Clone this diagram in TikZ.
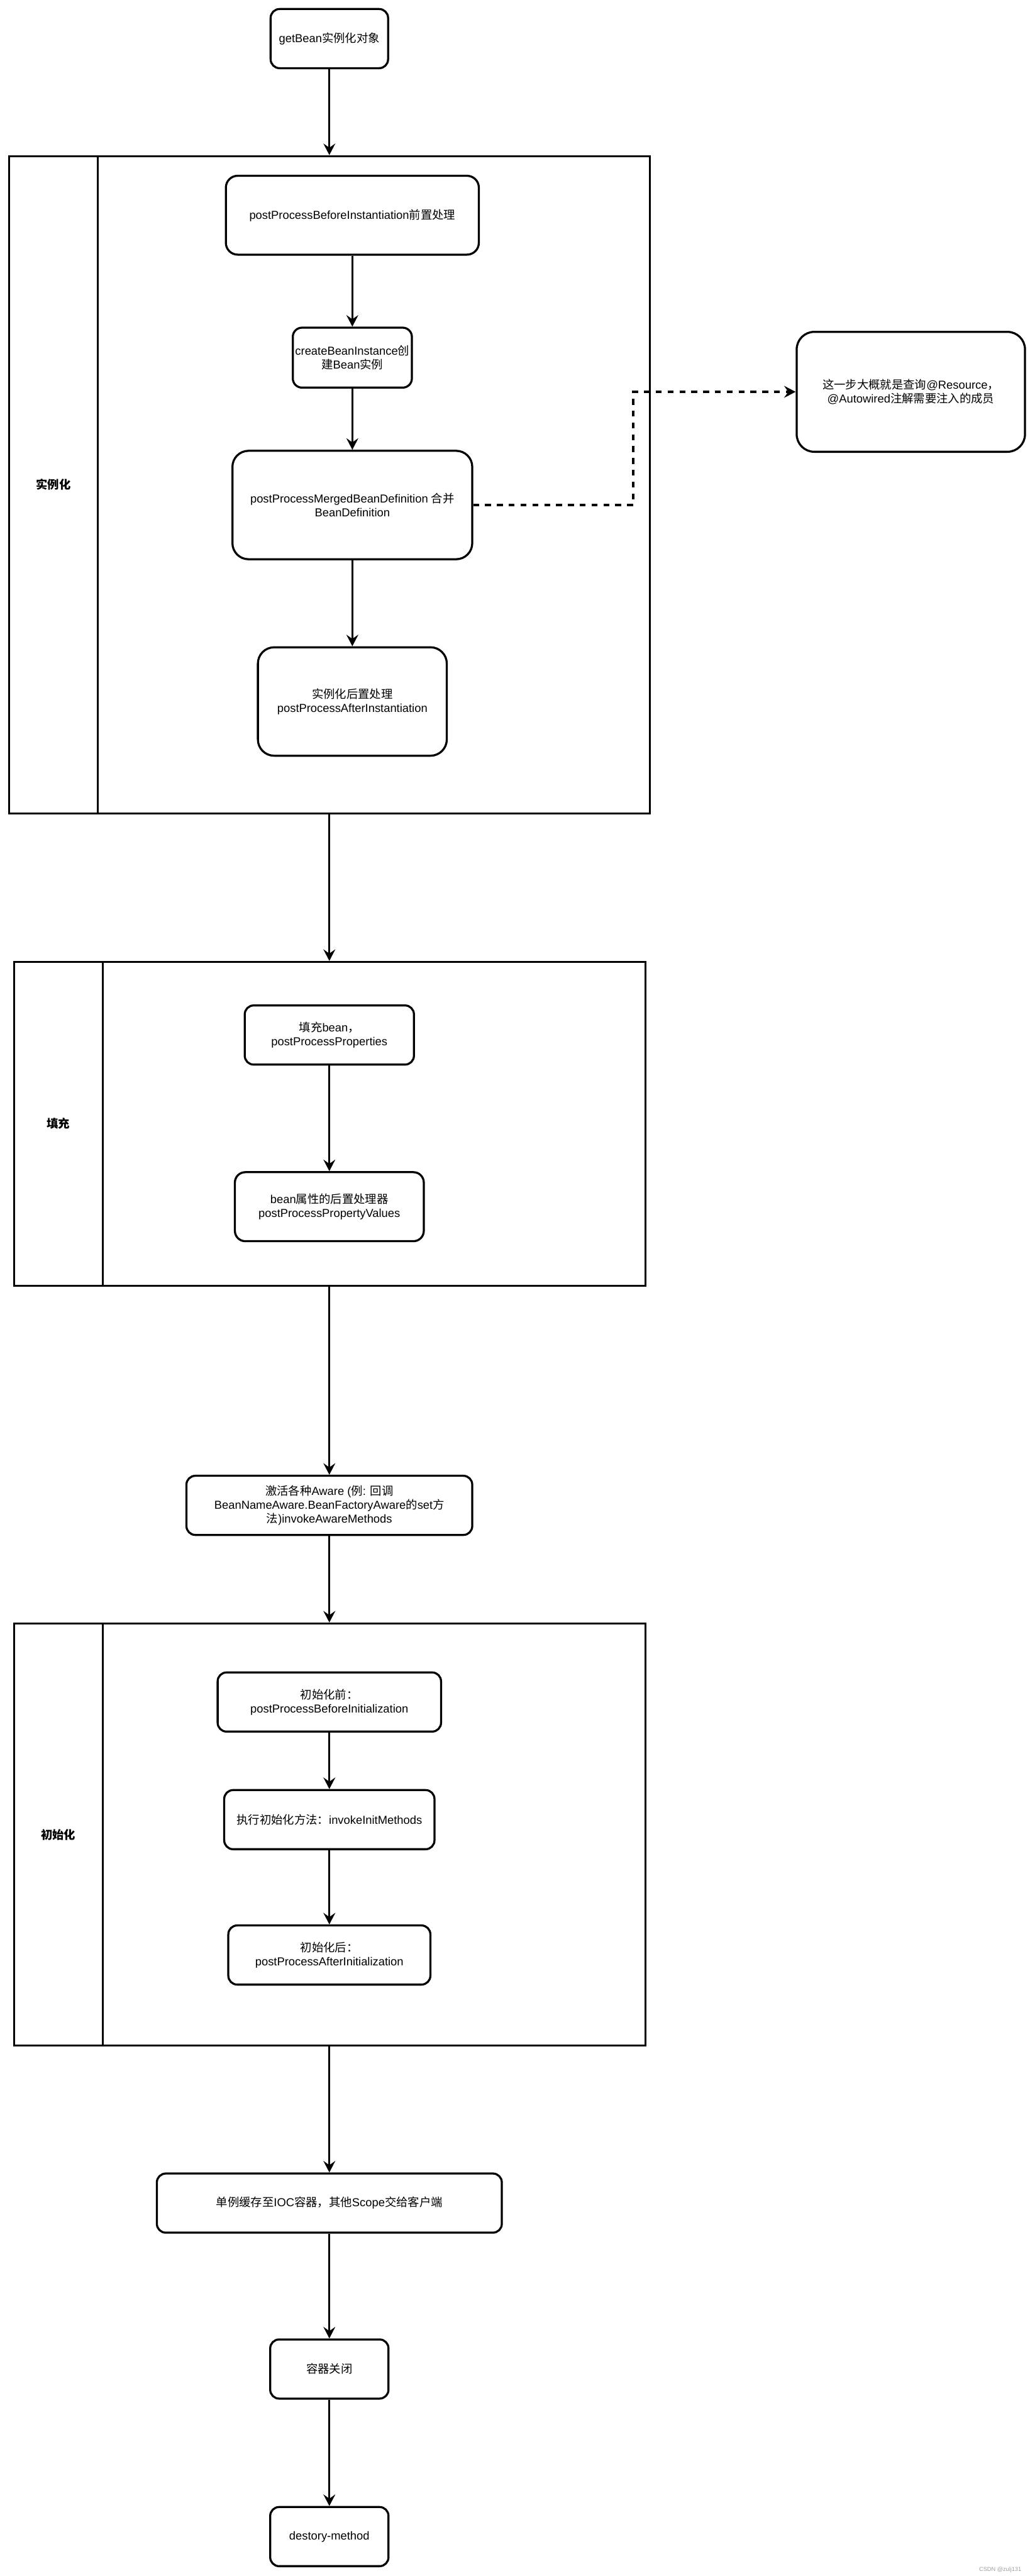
\documentclass[tikz,border=0pt]{standalone}
\usepackage{fontspec}
\setmainfont{Liberation Sans}
\newfontfamily\zhfont{Noto Sans CJK SC}
\newcommand{\zh}[1]{{\zhfont #1}}
\usetikzlibrary{arrows.meta,calc}

\begin{document}
\begin{tikzpicture}[x=1mm, y=-1mm,
    font=\fontsize{20}{24}\selectfont,
    stepbox/.style={draw, line width=1.25mm, rounded corners=#1, align=center, inner sep=0pt},
    stepbox/.default=5.4mm,
    lane/.style={draw, line width=1.2mm, inner sep=0pt},
    flow/.style={-{Stealth[length=7mm,width=7.2mm,inset=2.5mm]}, line width=1.2mm},
    dashflow/.style={flow, dash pattern=on 3.6mm off 3.6mm}]
    \useasboundingbox (0,0) rectangle (627,1568);

    % Start
    \node[stepbox, minimum width=71.5mm, minimum height=36mm] (getbean) at (200.5,23.5) {getBean\zh{实例化对象}};

    % Lane: instantiation
    \node[lane, minimum width=54mm, minimum height=400mm] (insthead) at (32.5,295) {\bfseries\zh{实例化}};
    \node[lane, minimum width=336mm, minimum height=400mm] (instbody) at (227.5,295) {};
    \node[stepbox=7.2mm, minimum width=154mm, minimum height=48mm] (before) at (214.5,131) {postProcessBeforeInstantiation\zh{前置处理}};
    \node[stepbox=5.6mm, minimum width=72.5mm, minimum height=36.5mm] (create) at (214.5,217.7) {createBeanInstance\zh{创}\\\zh{建}Bean\zh{实例}};
    \node[stepbox=9.8mm, minimum width=146mm, minimum height=66mm] (merged) at (214.5,307.4) {postProcessMergedBeanDefinition \zh{合并}\\BeanDefinition};
    \node[stepbox=9.9mm, minimum width=115mm, minimum height=66mm] (after) at (214.5,427) {\zh{实例化后置处理}\\postProcessAfterInstantiation};

    % Side note
    \node[stepbox=10.7mm, minimum width=139mm, minimum height=73mm] (note) at (554.5,238.5) {\zh{这一步大概就是查询}@Resource\zh{，}\\ @Autowired\zh{注解需要注入的成员}};
    \coordinate (bend) at (385.5,0);
    \draw[dashflow] (merged.east) -- (merged.east -| bend) |- (note.west);

    % Lane: populate
    \node[lane, minimum width=54mm, minimum height=197mm] (fillhead) at (35.5,684) {\bfseries\zh{填充}};
    \node[lane, minimum width=330.5mm, minimum height=197mm] (fillbody) at (227.75,684) {};
    \node[stepbox, minimum width=103mm, minimum height=36mm] (fillbean) at (200.5,630) {\zh{填充}bean\zh{，}\\postProcessProperties};
    \node[stepbox=6.3mm, minimum width=115mm, minimum height=42mm] (propvalues) at (200.5,734.5) {bean\zh{属性的后置处理器}\\postProcessPropertyValues};

    % Aware callbacks
    \node[stepbox, minimum width=174mm, minimum height=36mm] (aware) at (200.5,916.3) {\zh{激活各种}Aware (\zh{例}: \zh{回调}\\BeanNameAware.BeanFactoryAware\zh{的}set\zh{方}\\\zh{法})invokeAwareMethods};

    % Lane: initialization
    \node[lane, minimum width=54mm, minimum height=257mm] (inithead) at (35.5,1116.7) {\bfseries\zh{初始化}};
    \node[lane, minimum width=330.5mm, minimum height=257mm] (initbody) at (227.75,1116.7) {};
    \node[stepbox, minimum width=136mm, minimum height=36mm] (beforeinit) at (200.5,1036) {\zh{初始化前：}\\postProcessBeforeInitialization};
    \node[stepbox, minimum width=128mm, minimum height=36mm] (invoke) at (200.5,1107.6) {\zh{执行初始化方法：}invokeInitMethods};
    \node[stepbox, minimum width=123mm, minimum height=36mm] (afterinit) at (200.5,1190) {\zh{初始化后：}\\postProcessAfterInitialization};

    % Cache, close, destroy
    \node[stepbox, minimum width=210mm, minimum height=36mm] (singleton) at (200.5,1341) {\zh{单例缓存至}IOC\zh{容器，其他}Scope\zh{交给客户端}};
    \node[stepbox, minimum width=72mm, minimum height=36mm] (close) at (200.5,1442) {\zh{容器关闭}};
    \node[stepbox, minimum width=72mm, minimum height=36mm] (destroy) at (200.5,1544) {destory-method};

    % Flow
    \draw[flow] (getbean.south) -- (getbean.south |- instbody.north);
    \draw[flow] (getbean |- instbody.south) -- (getbean |- fillbody.north);
    \draw[flow] (aware |- fillbody.south) -- (aware.north);
    \draw[flow] (aware.south) -- (aware |- initbody.north);
    \draw[flow] (singleton |- initbody.south) -- (singleton.north);
    \foreach \a/\b in {before/create, create/merged, merged/after, fillbean/propvalues,
        beforeinit/invoke, invoke/afterinit, singleton/close, close/destroy}
        \draw[flow] (\a) -- (\b);

    % Watermark
    \node[font=\fontsize{10}{12}\selectfont, text=black!38, anchor=south east] (mark) at (623,1567) {CSDN @zulj131};
\end{tikzpicture}
\end{document}
